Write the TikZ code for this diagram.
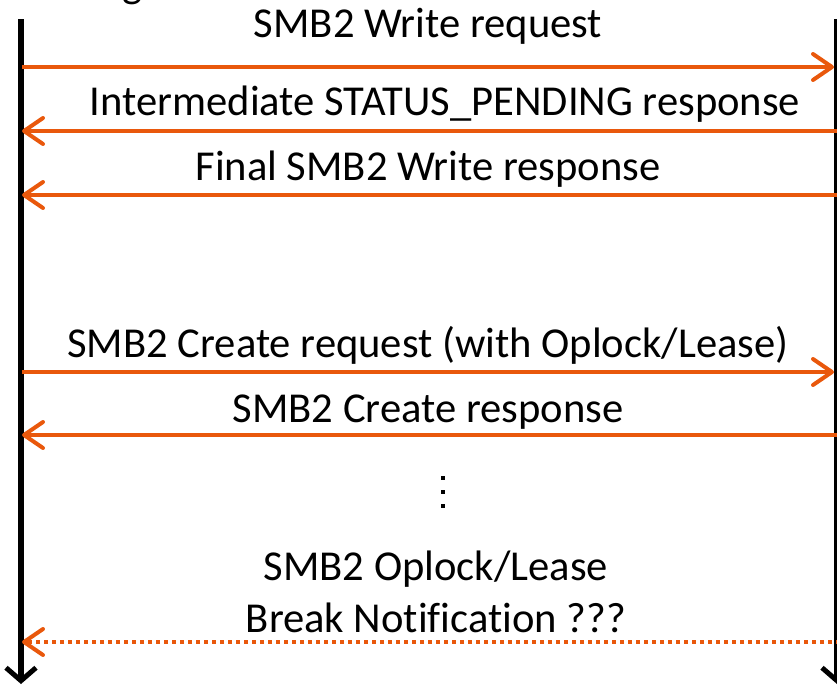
\documentclass[tikz,border=0pt]{standalone}
\usepackage{fontspec}
\setmainfont{Carlito}[Ligatures=CommonOff]
\usetikzlibrary{arrows.meta}
\definecolor{msgorange}{RGB}{233,88,12}
\begin{document}
\begin{tikzpicture}[x=1pt,y=-1pt,
  lifeline/.style={line width=6pt,
    -{Straight Barb[length=13pt,width=30pt,line width=5pt]}},
  message/.style={draw=msgorange,line width=4pt,
    -{Straight Barb[length=19pt,width=26pt,line width=4pt,round]}},
  pending/.style={message,line width=4pt,dash pattern=on 4pt off 4pt},
  label/.style={anchor=base,inner sep=0pt,font=\fontsize{42.6}{50}\selectfont},
  ellipsisdot/.style={fill=black,minimum size=4.5pt,inner sep=0pt,draw=none}
]
\useasboundingbox (0,0) rectangle (837,686);
\clip (0,0) rectangle (837,686);

% descender of the heading above the lifelines
\node[anchor=base,inner sep=0pt,font=\fontsize{42.6}{50}\selectfont] (head) at (133,-3) {g};

% lifelines
\coordinate (ltop) at (21,19);
\coordinate (lbot) at (21,684);
\coordinate (rtop) at (837,19);
\coordinate (rbot) at (837,684);
\draw[lifeline] (ltop) -- (lbot);
\draw[lifeline] (rtop) -- (rbot);

% message end points on the lifelines
\foreach \n/\y in {a/67,b/131,c/195,d/372,e/435,f/642}{
  \coordinate (L\n) at (22,\y);
  \coordinate (R\n) at (834,\y);
  \coordinate (E\n) at (840,\y);
}

% messages
\draw[message] (La) -- (Ra);
\node[label] (ta) at (428,37) {SMB2 Write request};

\draw[message] (Eb) -- (Lb);
\node[label] (tb) at (445,115) {Intermediate STATUS\_PENDING response};

\draw[message] (Ec) -- (Lc);
\node[label] (tc) at (428,180) {Final SMB2 Write response};

\draw[message] (Ld) -- (Rd);
\node[label] (td) at (428,357) {SMB2 Create request (with Oplock/Lease)};

\draw[message] (Ee) -- (Le);
\node[label] (te) at (428,422) {SMB2 Create response};

% vertical ellipsis
\node[ellipsisdot] (d1) at (443,478) {};
\node[ellipsisdot] (d2) at (443,492) {};
\node[ellipsisdot] (d3) at (443,506) {};

\node[label] (tf1) at (436,580) {SMB2 Oplock/Lease};
\node[label] (tf2) at (436,632) {Break Notification ???};
\draw[pending] (Ef) -- (Lf);
\end{tikzpicture}
\end{document}
